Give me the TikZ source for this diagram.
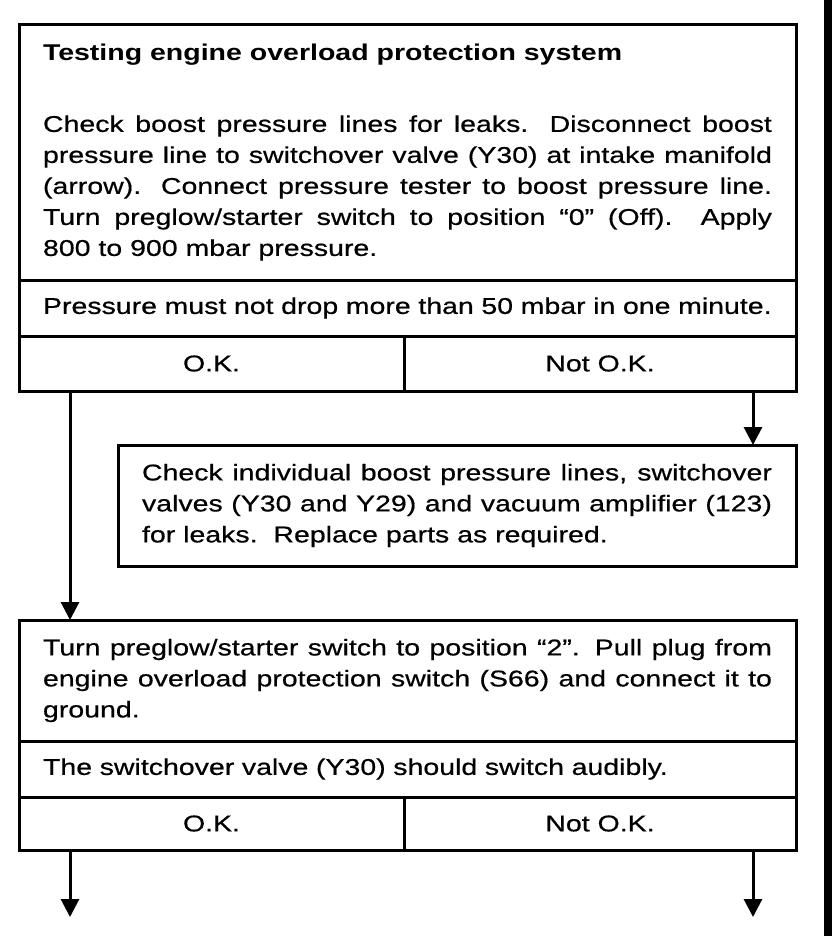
\documentclass[tikz,border=0pt]{standalone}
\usepackage{fontspec}
\setmainfont{Liberation Sans}[FakeStretch=1.25, UprightFeatures={FakeBold=0.6}]
\usetikzlibrary{arrows.meta,positioning}

\begin{document}
\begin{tikzpicture}[
    x=1pt, y=1pt,
    node distance=0pt,
    panel/.style={draw, line width=3pt, outer sep=0pt, inner xsep=24pt, inner ysep=0pt, text width=729pt, align=justify, font=\fontsize{22.8pt}{31pt}\selectfont},
    cell/.style={draw, line width=3pt, outer sep=0pt, inner sep=0pt, minimum height=55pt, align=center, font=\fontsize{22.8pt}{31pt}\selectfont},
    flow/.style={-{Triangle[width=18pt,length=18pt]}, line width=3pt}
]

\useasboundingbox (0,0) rectangle (832,-936);

% first test
\node[panel, minimum height=255pt, anchor=north west] (t1) at (19,-25) {%
  {\bfseries Testing engine overload protection system}\par\vspace{40pt}
  Check boost pressure lines for leaks.  Disconnect boost\linebreak
  pressure line to switchover valve (Y30) at intake manifold\linebreak
  (arrow).  Connect pressure tester to boost pressure line.\linebreak
  Turn preglow/starter switch to position “0” (Off).  Apply\linebreak
  800 to 900 mbar pressure.};
\node[panel, minimum height=56pt, align=left, below=of t1] (c1) {Pressure must not drop more than 50 mbar in one minute.};
\node[cell, minimum width=385pt, below right=0pt and 0pt of c1.south west] (ok1) {O.K.};
\node[cell, minimum width=392pt, right=of ok1] (nok1) {Not O.K.};

% repair
\node[panel, text width=630pt, minimum height=121pt, below left=54pt and 0pt of nok1.south east] (b2) {%
  Check individual boost pressure lines, switchover\linebreak
  valves (Y30 and Y29) and vacuum amplifier (123)\linebreak
  for leaks.\ \ Replace parts as required.};

% second test
\node[panel, minimum height=121pt, anchor=north west] (t3) at ([yshift=-54pt]b2.south -| t1.west) {%
  Turn preglow/starter switch to position “2”.  Pull plug from\linebreak
  engine overload protection switch (S66) and connect it to\linebreak
  ground.};
\node[panel, minimum height=56pt, align=left, below=of t3] (c3) {The switchover valve (Y30) should switch audibly.};
\node[cell, minimum width=385pt, minimum height=53pt, below right=0pt and 0pt of c3.south west] (ok3) {O.K.};
\node[cell, minimum width=392pt, minimum height=53pt, right=of ok3] (nok3) {Not O.K.};

\coordinate (lft) at (70,0);
\coordinate (rgt) at (753,0);
\coordinate (endok) at ([yshift=-67pt]ok3.south -| lft);
\coordinate (endnok) at ([yshift=-67pt]nok3.south -| rgt);

\draw[flow] (ok1.south -| lft) -- (t3.north -| lft);
\draw[flow] (nok1.south -| rgt) -- (b2.north -| rgt);
\draw[flow] (ok3.south -| lft) -- (endok);
\draw[flow] (nok3.south -| rgt) -- (endnok);

% dark strip at the right edge
\fill (824,0) rectangle (832,-936);
\end{tikzpicture}
\end{document}
